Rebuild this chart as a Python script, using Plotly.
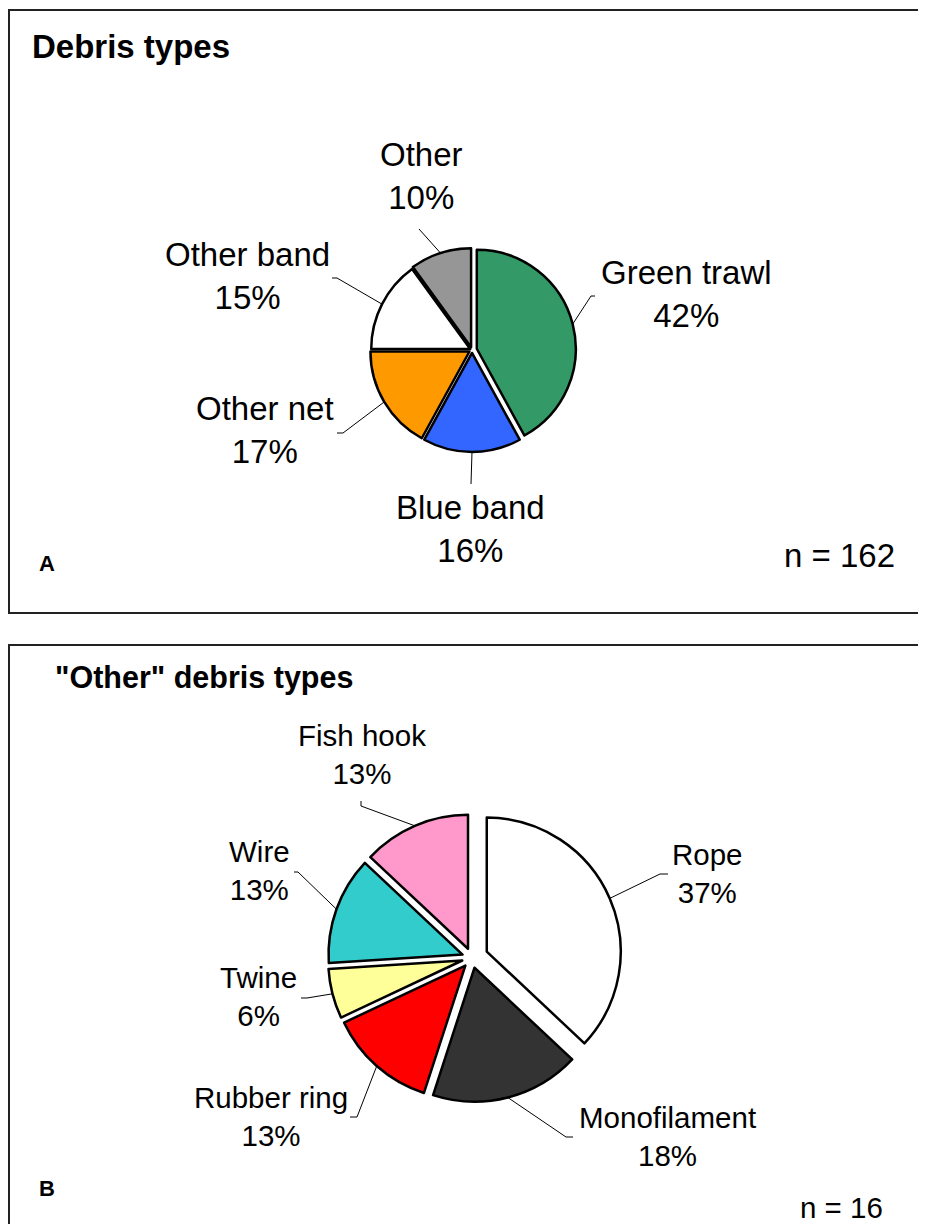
import math
import plotly.graph_objects as go

# ---------------- data ----------------
a_labels = ["Green trawl", "Blue band", "Other net", "Other band", "Other"]
a_values = [42, 16, 17, 15, 10]
a_n = 162

b_labels = ["Rope", "Monofilament", "Rubber ring", "Twine", "Wire", "Fish hook"]
b_values = [37, 18, 13, 6, 13, 13]
b_n = 16

# ---------------- styles / layout ----------------
PAGE_W, PAGE_H = 926, 1232
BODY = 8                      # browser default body margin
W, H = PAGE_W - BODY, PAGE_H - 2 * BODY
FONT = "Arial, Liberation Sans, sans-serif"

a_colors = ["#339966", "#3366FF", "#FF9900", "#FFFFFF", "#969696"]
a_pull = [0.05, 0.03, 0.03, 0.02, 0.03]
b_colors = ["#FFFFFF", "#333333", "#FF0000", "#FFFF99", "#33CCCC", "#FF99CC"]
b_pull = [0.12, 0.075, 0.075, 0.075, 0.075, 0.075]

A_CENTER, A_R = (472, 350), 99
B_CENTER, B_R = (472, 958), 134

# label centres (page px) and leader-line label-side points (page px)
a_label_pos = [(686, 294), (471, 529), (265, 430), (247, 276), (421, 176)]
a_leader = [[(595, 296), (591, 296)], [(471, 484)], [(337, 433), (343, 433)],
            [(332, 278), (337, 278)], [(419, 229)]]
b_label_pos = [(707, 873), (667, 1136), (271, 1116), (258, 996), (259, 870), (362, 754)]
b_leader = [[(668, 874), (660, 874)], [(573, 1137), (566, 1137)],
            [(350, 1117), (357, 1117)], [(301, 998), (307, 998)],
            [(294, 872), (298, 872)], [(361, 801), (361, 806)]]


def px(x, y):
    return (x - BODY) / W, 1 - (y - BODY) / H


def domain(center, r, pulls):
    half = r * (1 + max(pulls))
    cx, cy = center
    x0, y1 = px(cx - half, cy - half)
    x1, y0 = px(cx + half, cy + half)
    return dict(x=[x0, x1], y=[y0, y1])


def edge_points(values, pulls, center, r):
    tot = float(sum(values))
    cum = 0.0
    pts = []
    for v, p in zip(values, pulls):
        mid = (cum + v / 2) / tot * 2 * math.pi
        cum += v
        d = r * (1 + p)
        pts.append((center[0] + d * math.sin(mid), center[1] - d * math.cos(mid)))
    return pts


fig = go.Figure()
for labels, values, colors, pulls, center, r in [
    (a_labels, a_values, a_colors, a_pull, A_CENTER, A_R),
    (b_labels, b_values, b_colors, b_pull, B_CENTER, B_R),
]:
    fig.add_trace(go.Pie(
        labels=labels, values=values, sort=False, direction="clockwise",
        rotation=0, pull=pulls, textinfo="none", hoverinfo="label+percent",
        marker=dict(colors=colors, line=dict(color="black", width=2.5)),
        domain=domain(center, r, pulls), showlegend=False,
    ))

shapes = []
annotations = []


def add_labels(labels, values, pulls, center, r, label_pos, leaders, size):
    pts = edge_points(values, pulls, center, r)
    for lab, v, pos, lead, ep in zip(labels, values, label_pos, leaders, pts):
        X, Y = px(*pos)
        annotations.append(dict(
            x=X, y=Y, xref="paper", yref="paper",
            text=f"{lab}<br>{v}%", showarrow=False, xanchor="center", yanchor="middle",
            font=dict(family=FONT, size=size, color="black")))
        path_pts = lead + [ep]
        path = "M " + " L ".join(f"{px(x, y)[0]},{px(x, y)[1]}" for x, y in path_pts)
        shapes.append(dict(type="path", path=path, xref="paper", yref="paper",
                           line=dict(color="black", width=1)))


add_labels(a_labels, a_values, a_pull, A_CENTER, A_R, a_label_pos, a_leader, 33)
add_labels(b_labels, b_values, b_pull, B_CENTER, B_R, b_label_pos, b_leader, 29.5)

# panel frames
for (x0, y0, x1, y1) in [(9, 10, 960, 613), (9, 645, 960, 1290)]:
    X0, Y0 = px(x0, y0)
    X1, Y1 = px(x1, y1)
    shapes.append(dict(type="rect", xref="paper", yref="paper", x0=X0, y0=Y1, x1=X1, y1=Y0,
                       line=dict(color="#222222", width=2), fillcolor="rgba(0,0,0,0)"))


def text(x, y, s, size, bold=False, anchor="left"):
    X, Y = px(x, y)
    annotations.append(dict(x=X, y=Y, xref="paper", yref="paper", showarrow=False,
                            text=f"<b>{s}</b>" if bold else s, xanchor=anchor, yanchor="middle",
                            font=dict(family=FONT, size=size, color="black")))


text(30, 46, "Debris types", 33, bold=True)
text(37, 563, "A", 22, bold=True)
text(897, 555, f"n = {a_n}", 33, anchor="right")
text(53, 677, "\"Other\" debris types", 30.5, bold=True)
text(37, 1188, "B", 22, bold=True)
text(885, 1207, f"n = {b_n}", 29.5, anchor="right")

fig.update_layout(width=W, height=H, margin=dict(l=0, r=0, t=0, b=0),
                  paper_bgcolor="white", plot_bgcolor="white",
                  shapes=shapes, annotations=annotations,
                  font=dict(family=FONT))

fig.write_html("out.html")
